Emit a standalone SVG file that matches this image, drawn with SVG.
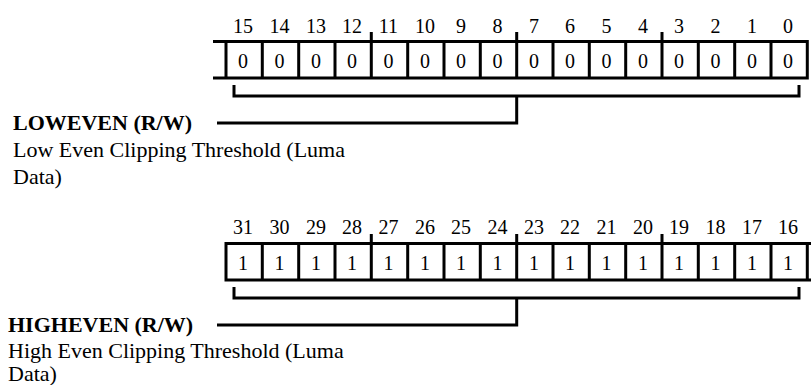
<svg xmlns="http://www.w3.org/2000/svg" width="811" height="385" viewBox="0 0 811 385">
<style>
.ln{fill:none;stroke:#000;stroke-width:3;stroke-linejoin:miter}
.num{font-family:"Liberation Serif","Times New Roman",serif;font-size:20px;fill:#000;text-anchor:middle}
.val{font-family:"Liberation Serif","Times New Roman",serif;font-size:20px;fill:#000;text-anchor:middle}
.ttl{font-family:"Liberation Serif","Times New Roman",serif;font-size:22px;font-weight:bold;fill:#000}
.dsc{font-family:"Liberation Serif","Times New Roman",serif;font-size:22px;fill:#000}
</style>
<rect width="811" height="385" fill="#fff"/>
<g id="lowreg">
<g class="num">
<text x="243" y="33">15</text><text x="279.5" y="33">14</text><text x="316" y="33">13</text><text x="352" y="33">12</text>
<text x="388.5" y="33">11</text><text x="425" y="33">10</text><text x="461" y="33">9</text><text x="497.5" y="33">8</text>
<text x="534" y="33">7</text><text x="570" y="33">6</text><text x="606.5" y="33">5</text><text x="643" y="33">4</text>
<text x="679" y="33">3</text><text x="715.5" y="33">2</text><text x="752" y="33">1</text><text x="788" y="33">0</text>
</g>
<path class="ln" d="M213 41.5H807.3M213 78H807.3M226 41.5V78M262.3 41.5V78M298.7 41.5V78M335 41.5V78M371.3 32V78M407.7 41.5V78M444 41.5V78M480.3 41.5V78M516.7 32V78M553 41.5V78M589.3 41.5V78M625.7 41.5V78M662 32V78M698.3 41.5V78M734.7 41.5V78M771 41.5V78M807.3 40V79.5"/>
<g class="val">
<text x="243" y="68">0</text><text x="279.5" y="68">0</text><text x="316" y="68">0</text><text x="352" y="68">0</text>
<text x="388.5" y="68">0</text><text x="425" y="68">0</text><text x="461" y="68">0</text><text x="497.5" y="68">0</text>
<text x="534" y="68">0</text><text x="570" y="68">0</text><text x="606.5" y="68">0</text><text x="643" y="68">0</text>
<text x="679" y="68">0</text><text x="715.5" y="68">0</text><text x="752" y="68">0</text><text x="788" y="68">0</text>
</g>
</g>
<g id="highreg">
<g class="num">
<text x="243" y="234">31</text><text x="279.5" y="234">30</text><text x="316" y="234">29</text><text x="352" y="234">28</text>
<text x="388.5" y="234">27</text><text x="425" y="234">26</text><text x="461" y="234">25</text><text x="497.5" y="234">24</text>
<text x="534" y="234">23</text><text x="570" y="234">22</text><text x="606.5" y="234">21</text><text x="643" y="234">20</text>
<text x="679" y="234">19</text><text x="715.5" y="234">18</text><text x="752" y="234">17</text><text x="788" y="234">16</text>
</g>
<path class="ln" d="M226 243.5H813M226 280H813M226 242V281.5M262.3 243.5V280M298.7 243.5V280M335 243.5V280M371.3 234V280M407.7 243.5V280M444 243.5V280M480.3 243.5V280M516.7 234V280M553 243.5V280M589.3 243.5V280M625.7 243.5V280M662 234V280M698.3 243.5V280M734.7 243.5V280M771 243.5V280M807.3 243.5V280"/>
<g class="val">
<text x="243" y="269.5">1</text><text x="279.5" y="269.5">1</text><text x="316" y="269.5">1</text><text x="352" y="269.5">1</text>
<text x="388.5" y="269.5">1</text><text x="425" y="269.5">1</text><text x="461" y="269.5">1</text><text x="497.5" y="269.5">1</text>
<text x="534" y="269.5">1</text><text x="570" y="269.5">1</text><text x="606.5" y="269.5">1</text><text x="643" y="269.5">1</text>
<text x="679" y="269.5">1</text><text x="715.5" y="269.5">1</text><text x="752" y="269.5">1</text><text x="788" y="269.5">1</text>
</g>
</g>
<g id="lowlabel">
<text class="ttl" x="13" y="130">LOWEVEN (R/W)</text>
<text class="dsc" x="13" y="157">Low Even Clipping Threshold (Luma</text>
<text class="dsc" x="13" y="184">Data)</text>
</g>
<g id="highlabel">
<text class="ttl" x="8" y="332">HIGHEVEN (R/W)</text>
<text class="dsc" x="8" y="357.5">High Even Clipping Threshold (Luma</text>
<text class="dsc" x="8" y="380.5">Data)</text>
</g>
<g id="connectors">
<path class="ln" d="M234 85V96H799V85M516.7 96V123H217"/>
<path class="ln" d="M234 287V298H799V287M516.7 298V325H217"/>
</g>
</svg>
